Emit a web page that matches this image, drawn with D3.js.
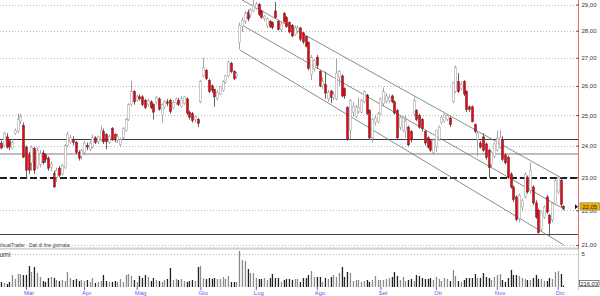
<!DOCTYPE html>
<html>
<head>
<meta charset="utf-8">
<script src="https://cdn.jsdelivr.net/npm/d3@7"></script>
<style>
  html, body { margin: 0; padding: 0; background: #fff; }
  svg { display: block; }
  text { font-family: "Liberation Sans", Arial, sans-serif; }
</style>
</head>
<body>
<svg id="chart" width="600" height="296"></svg>
<script>
// trading days per month, Feb (partial) .. Dic (partial)
const months = ['Feb', 'Mar', 'Apr', 'Mag', 'Giu', 'Lug', 'Ago', 'Set', 'Ott', 'Nov', 'Dic'];
const monthDays = [9, 21, 19, 23, 20, 22, 23, 20, 22, 22, 3];

const open = [
  24.08, 24.00, 24.28, 24.15, 23.92, 24.40, 24.45, 24.80, 24.65,
  23.95, 23.70, 23.45, 23.90, 23.32, 23.40, 23.76, 23.70, 23.60, 23.30, 23.12, 23.00, 23.28, 23.10, 23.30, 24.00, 24.12, 24.20, 24.10, 23.78, 23.65,
  23.78, 24.00, 23.88, 23.95, 24.25, 24.12, 24.20, 24.45, 24.35, 24.10, 24.55, 24.35, 24.18, 24.02, 24.25, 24.50, 24.85, 25.35, 25.80,
  25.50, 25.62, 25.62, 25.50, 25.35, 25.45, 25.35, 25.42, 25.55, 25.00, 25.25, 25.45, 25.50, 25.25, 25.42, 25.50, 25.30, 25.40, 25.55, 25.10, 25.05, 24.85, 24.85,
  25.45, 26.35, 26.55, 26.18, 26.00, 25.88, 25.55, 25.72, 25.85, 26.12, 26.35, 26.80, 26.50, 26.35, 27.55, 28.15, 28.35, 28.70, 28.60, 28.75,
  28.85, 29.00, 28.75, 28.45, 28.20, 28.35, 28.30, 28.75, 28.35, 28.05, 28.65, 28.50, 28.30, 28.20, 27.85, 28.00, 28.10, 27.92, 27.78, 27.55, 26.40, 26.60,
  27.02, 26.50, 26.00, 26.05, 25.55, 25.82, 25.60, 25.55, 26.30, 26.35, 25.90, 25.25, 24.50, 25.10, 24.95, 25.12, 25.10, 25.45, 25.68, 25.15, 24.25, 24.75, 24.78,
  25.05, 25.38, 25.45, 25.50, 25.65, 25.45, 25.15, 24.60, 24.50, 24.45, 24.60, 24.45, 25.05, 25.15, 24.98, 24.85, 24.45, 24.25, 24.15, 23.78,
  23.95, 24.20, 24.75, 24.80, 24.85, 24.90, 25.45, 25.80, 26.15, 25.90, 26.15, 25.80, 25.28, 25.28, 24.68, 24.20, 24.08, 24.28, 24.05, 23.85, 23.40, 23.65,
  23.85, 23.95, 24.20, 23.70, 23.62, 23.10, 22.70, 22.40, 21.75, 22.10, 22.40, 23.00, 22.60, 22.70, 22.22, 22.00, 21.45, 21.80, 22.40, 21.85, 21.72, 22.20,
  22.55, 22.90, 22.12
];
const high = [
  24.15, 24.45, 24.40, 24.20, 24.20, 24.55, 25.05, 25.05, 24.75,
  24.00, 23.80, 24.00, 23.95, 23.95, 23.85, 23.85, 23.75, 23.65, 23.50, 23.20, 23.30, 23.35, 23.42, 24.05, 24.45, 24.35, 24.30, 24.15, 23.85, 23.90,
  24.15, 24.10, 24.15, 24.35, 24.30, 24.32, 24.65, 24.55, 24.40, 24.35, 24.60, 24.40, 24.38, 24.25, 24.60, 24.90, 25.40, 26.18, 25.85,
  25.70, 25.70, 25.68, 25.55, 25.55, 25.50, 25.40, 25.65, 25.60, 25.40, 25.50, 25.55, 25.55, 25.50, 25.60, 25.58, 25.65, 25.65, 25.60, 25.15, 25.10, 25.00, 24.90,
  26.20, 27.00, 26.60, 26.25, 26.05, 25.90, 25.85, 26.00, 26.20, 26.40, 26.90, 26.85, 26.55, 26.50, 28.30, 28.50, 28.75, 28.80, 28.85, 29.20,
  29.10, 29.05, 28.80, 28.60, 28.50, 28.40, 28.35, 29.10, 28.40, 28.30, 28.70, 28.55, 28.35, 28.25, 28.20, 28.20, 28.15, 27.95, 27.80, 27.60, 27.10, 26.95,
  27.10, 26.55, 26.30, 26.50, 25.85, 25.85, 25.80, 26.95, 26.55, 26.40, 25.95, 25.30, 25.55, 25.45, 25.35, 25.60, 25.55, 25.85, 25.72, 25.20, 24.90, 25.00, 25.10,
  25.60, 25.95, 25.75, 25.70, 25.70, 25.50, 25.20, 25.00, 24.95, 25.00, 24.65, 24.50, 25.60, 25.20, 25.05, 24.90, 24.50, 24.30, 24.20, 24.22,
  24.52, 24.65, 25.00, 25.05, 25.05, 24.95, 26.15, 26.72, 26.45, 26.15, 26.20, 25.85, 25.32, 25.32, 24.72, 24.45, 24.15, 24.40, 24.10, 23.90, 23.82, 24.10,
  24.48, 24.50, 24.30, 23.75, 23.68, 23.15, 22.75, 22.45, 22.50, 22.35, 23.15, 23.05, 23.45, 22.75, 22.30, 22.05, 22.00, 22.15, 22.45, 21.90, 22.25, 22.95,
  23.05, 23.00, 22.15
];
const low = [
  23.88, 23.95, 23.90, 23.85, 23.88, 24.35, 24.40, 24.70, 23.60,
  22.97, 23.10, 23.20, 23.10, 23.25, 23.30, 23.40, 23.45, 23.20, 23.20, 22.68, 22.85, 23.00, 23.05, 23.25, 23.95, 24.05, 24.00, 23.72, 23.52, 23.55,
  23.70, 23.85, 23.82, 23.90, 24.05, 24.05, 24.15, 24.05, 23.88, 24.05, 24.15, 24.10, 24.08, 23.95, 24.20, 24.45, 24.80, 25.30, 25.35,
  25.45, 25.50, 25.30, 25.20, 25.30, 25.20, 24.85, 25.35, 25.15, 24.75, 25.20, 25.30, 25.05, 25.20, 25.35, 25.30, 25.25, 25.35, 25.00, 24.85, 24.75, 24.75, 24.60,
  25.40, 26.30, 26.20, 25.75, 25.75, 25.28, 25.50, 25.68, 25.80, 26.08, 26.30, 26.45, 26.20, 26.25, 27.30, 27.95, 28.25, 28.35, 28.50, 28.70,
  28.80, 28.55, 28.45, 28.35, 28.10, 28.10, 28.05, 28.45, 28.00, 27.95, 28.30, 28.10, 27.90, 27.75, 27.80, 27.90, 27.60, 27.50, 27.38, 26.55, 26.20, 26.50,
  26.60, 25.95, 25.90, 25.55, 25.45, 25.40, 25.50, 25.50, 26.00, 25.60, 25.55, 24.15, 24.20, 24.95, 24.90, 25.05, 25.05, 25.40, 25.00, 24.20, 24.10, 24.65, 24.72,
  25.00, 25.30, 25.40, 25.40, 25.40, 25.02, 24.20, 24.50, 24.45, 24.25, 23.98, 24.10, 24.95, 24.80, 24.55, 24.45, 24.00, 23.90, 23.80, 23.70,
  23.80, 24.15, 24.70, 24.75, 24.80, 24.60, 25.40, 25.75, 25.75, 25.85, 25.65, 25.10, 25.10, 24.75, 24.40, 23.65, 23.90, 23.80, 23.55, 22.98, 23.30, 23.60,
  23.80, 23.90, 23.50, 23.40, 22.95, 22.65, 22.25, 21.68, 21.65, 22.00, 22.35, 22.50, 22.50, 22.15, 21.75, 21.32, 21.40, 21.75, 21.90, 21.25, 21.65, 22.15,
  22.50, 22.10, 22.00
];
const close = [
  23.92, 24.40, 23.95, 23.95, 24.10, 24.50, 24.85, 24.95, 23.63,
  23.22, 23.22, 23.95, 23.22, 23.85, 23.75, 23.45, 23.55, 23.28, 23.40, 22.70, 23.22, 23.06, 23.37, 24.00, 24.35, 24.25, 24.10, 23.78, 23.60, 23.85,
  24.08, 23.95, 24.08, 24.25, 24.10, 24.28, 24.50, 24.12, 24.12, 24.30, 24.20, 24.18, 24.30, 24.20, 24.55, 24.85, 25.35, 25.80, 25.45,
  25.62, 25.55, 25.35, 25.25, 25.50, 25.25, 25.10, 25.60, 25.20, 25.35, 25.45, 25.40, 25.12, 25.42, 25.55, 25.35, 25.55, 25.62, 25.07, 24.93, 24.82, 24.95, 24.72,
  26.15, 26.65, 26.25, 25.80, 25.85, 25.62, 25.78, 25.97, 26.15, 26.35, 26.85, 26.50, 26.25, 26.42, 28.20, 28.40, 28.65, 28.45, 28.80, 28.95,
  29.02, 28.62, 28.50, 28.55, 28.45, 28.15, 28.12, 28.50, 28.05, 28.25, 28.35, 28.15, 27.95, 27.80, 28.12, 28.10, 27.68, 27.58, 27.42, 26.62, 27.00, 26.90,
  26.72, 26.00, 26.15, 25.75, 25.78, 25.60, 25.70, 26.45, 26.50, 25.65, 25.65, 24.20, 25.50, 25.30, 25.28, 25.25, 25.50, 25.80, 25.05, 24.25, 24.85, 24.90, 25.05,
  25.55, 25.80, 25.65, 25.60, 25.45, 25.07, 24.25, 24.92, 24.90, 24.80, 24.02, 24.18, 25.50, 24.85, 24.60, 24.55, 24.08, 23.95, 23.85, 24.18,
  24.50, 24.60, 24.93, 25.00, 24.98, 24.68, 26.12, 26.65, 25.80, 26.05, 25.72, 25.18, 25.18, 24.78, 24.45, 24.40, 23.95, 23.85, 23.62, 23.30, 23.78, 24.05,
  24.22, 24.25, 23.55, 23.45, 23.00, 22.70, 22.32, 21.73, 22.45, 22.30, 23.08, 22.55, 23.20, 22.22, 21.80, 21.35, 21.95, 22.10, 21.95, 21.62, 22.20, 22.90,
  23.00, 22.18, 22.05
];
// volume, thousands of shares
const volume = [
  760, 600, 450, 760, 1820, 1210, 1970, 1970, 1820,
  1820, 3180, 2270, 3030, 2120, 1520, 910, 760, 1360, 1520, 1360, 1060, 910, 1060, 910, 2270, 1360, 1060, 1210, 910, 1060,
  910, 1060, 760, 1360, 600, 760, 910, 1820, 910, 760, 760, 910, 760, 1210, 760, 1820, 1970, 1670, 1060,
  760, 1670, 1360, 1820, 1520, 910, 1360, 1060, 910, 760, 1060, 1210, 2880, 1060, 1210, 1060, 1210, 910, 760, 910, 1060, 910, 3030,
  3180, 1360, 1210, 1360, 1210, 1360, 1210, 1210, 1520, 1210, 1670, 760, 760, 760, 5450, 4090, 3940, 2730, 2120, 2120,
  1360, 1210, 1210, 1360, 1060, 1360, 1970, 1360, 1360, 760, 1060, 1210, 1210, 1060, 1210, 1210, 760, 1360, 1360, 1820, 2420, 1520,
  1520, 1520, 760, 1360, 1210, 1520, 1820, 1520, 2120, 3030, 1520, 2270, 2120, 910, 1060, 1060, 760, 910, 1060, 760, 1060, 1670, 1060,
  1060, 1060, 1210, 1360, 1520, 2270, 1670, 1060, 1520, 910, 1060, 1210, 910, 1820, 1670, 1360, 1210, 1210, 1360, 1060,
  1520, 1210, 910, 1360, 1210, 910, 2580, 1670, 910, 760, 1060, 1360, 1360, 1360, 1970, 1360, 1360, 2120, 1520, 1360, 1060, 1520,
  1820, 1970, 1060, 760, 1360, 2580, 1820, 1820, 1670, 1360, 1210, 1060, 1060, 1360, 1820, 1210, 1210, 910, 910, 1360, 1210, 2270,
  2420, 1970, 216.03
];

const priceTicks = [21, 22, 23, 24, 25, 26, 27, 28, 29];
const volumeTicks = [5000];
// horizontal support / resistance levels
const levels = [24.21, 23.75, 23.0, 21.31];
// descending channel: [bar index, price] at start and end
const channelStart = [[87, 29.18], [87, 28.21], [86.3, 27.28]];
const channelEnd = [[202.5, 22.97], [203.6, 22.02], [203.2, 21.0]];

(function () {
    'use strict';

    const W = 600;
    const H = 296;
    const axisX = 578.5;
    const n = close.length;

    const svg = d3.select('#chart');
    svg.append('rect').attr('width', W).attr('height', H).attr('fill', '#fff');

    const x = d3.scaleLinear().domain([0, n - 1]).range([1, 563.3]);
    const y = d3.scaleLog().domain([21, 29]).range([245, 4.5]);
    const yVol = d3.scaleLinear().domain([0, 5000]).range([287, 254]);

    const it = d3.formatLocale({ decimal: ',', thousands: '.', grouping: [3], currency: ['€', ''] });
    const fmtPrice = it.format('.2f');

    // dotted price grid
    svg.append('g')
        .selectAll('line')
        .data(priceTicks)
        .join('line')
        .attr('x1', 0).attr('x2', axisX)
        .attr('y1', d => Math.round(y(d)) + 0.5)
        .attr('y2', d => Math.round(y(d)) + 0.5)
        .attr('stroke', '#b8b8b8')
        .attr('stroke-dasharray', '1,2');

    // volume grid
    svg.append('g')
        .selectAll('line')
        .data(volumeTicks)
        .join('line')
        .attr('x1', 0).attr('x2', axisX)
        .attr('y1', d => Math.round(yVol(d)) + 0.5)
        .attr('y2', d => Math.round(yVol(d)) + 0.5)
        .attr('stroke', '#b8b8b8')
        .attr('stroke-dasharray', '1,2');

    // level lines
    const levelStyle = [
        { stroke: '#3a3a3a', width: 1.3, dash: null },
        { stroke: '#bdbdbd', width: 2, dash: null },
        { stroke: '#1e1e1e', width: 2, dash: '7,3' },
        { stroke: '#4a4a4a', width: 1, dash: null },
    ];
    svg.append('g')
        .selectAll('line')
        .data(levels)
        .join('line')
        .attr('x1', 0).attr('x2', axisX - 0.5)
        .attr('y1', d => Math.round(y(d)) + 0.5)
        .attr('y2', d => Math.round(y(d)) + 0.5)
        .attr('stroke', (d, i) => levelStyle[i].stroke)
        .attr('stroke-width', (d, i) => levelStyle[i].width)
        .attr('stroke-dasharray', (d, i) => levelStyle[i].dash)
        .attr('shape-rendering', 'crispEdges');

    // channel
    svg.append('g')
        .selectAll('line')
        .data(channelStart)
        .join('line')
        .attr('x1', d => x(d[0])).attr('y1', d => y(d[1]))
        .attr('x2', (d, i) => x(channelEnd[i][0]))
        .attr('y2', (d, i) => y(channelEnd[i][1]))
        .attr('stroke', '#6e6e6e')
        .attr('stroke-width', 0.8);

    // candles
    const bars = d3.range(n);
    const up = i => close[i] >= open[i];
    const candles = svg.append('g');
    candles.selectAll('line')
        .data(bars)
        .join('line')
        .attr('x1', i => Math.round(x(i)) + 0.5)
        .attr('x2', i => Math.round(x(i)) + 0.5)
        .attr('y1', i => y(high[i]))
        .attr('y2', i => y(low[i]))
        .attr('stroke', i => up(i) ? '#9a9a9a' : '#555')
        .attr('stroke-width', 0.9);
    candles.selectAll('rect')
        .data(bars)
        .join('rect')
        .attr('x', i => Math.round(x(i)) - 0.5)
        .attr('width', 2)
        .attr('y', i => y(Math.max(open[i], close[i])))
        .attr('height', i => Math.max(1, y(Math.min(open[i], close[i])) - y(Math.max(open[i], close[i]))))
        .attr('fill', i => up(i) ? '#ffffff' : '#f00010')
        .attr('stroke', i => up(i) ? '#9a9a9a' : '#5a2020')
        .attr('stroke-width', 0.5);

    // panel separator
    svg.append('rect')
        .attr('x', 0).attr('y', 247.5)
        .attr('width', axisX).attr('height', 2.2)
        .attr('fill', '#d2d2d2');

    // title
    svg.append('rect').attr('x', 0).attr('y', 242.5).attr('width', 70).attr('height', 5).attr('fill', '#fff');
    svg.append('text')
        .attr('x', -1.5).attr('y', 247.2)
        .attr('font-size', 5.4)
        .attr('textLength', 71)
        .attr('lengthAdjust', 'spacingAndGlyphs')
        .attr('fill', '#333')
        .text('VisualTrader - Dati di fine giornata');

    svg.append('text')
        .attr('x', -10.5).attr('y', 257)
        .attr('font-size', 7)
        .attr('fill', '#333')
        .text('Volumi');

    // volume bars
    svg.append('g')
        .selectAll('rect')
        .data(bars)
        .join('rect')
        .attr('x', i => Math.round(x(i)) - 0.2)
        .attr('width', 1.3)
        .attr('y', i => yVol(volume[i]))
        .attr('height', i => yVol(0) - yVol(volume[i]))
        .attr('fill', i => up(i) ? '#8c8c8c' : '#222');

    // right axis lines
    svg.append('line')
        .attr('x1', axisX).attr('x2', axisX).attr('y1', 0).attr('y2', 249)
        .attr('stroke', '#e86a6a');
    svg.append('line')
        .attr('x1', axisX).attr('x2', axisX).attr('y1', 249).attr('y2', 290)
        .attr('stroke', '#c4c4c4');

    const yAxis = d3.axisRight(y)
        .tickValues(priceTicks)
        .tickFormat(fmtPrice)
        .tickSizeInner(-2)
        .tickSizeOuter(0)
        .tickPadding(3);
    const gy = svg.append('g')
        .attr('transform', `translate(${axisX},0)`)
        .call(yAxis);
    gy.select('.domain').remove();
    gy.selectAll('.tick line').attr('stroke', '#333');
    gy.selectAll('.tick text')
        .attr('font-size', 6)
        .attr('font-family', '"Liberation Sans", Arial, sans-serif')
        .attr('fill', '#333');

    const volAxis = d3.axisRight(yVol)
        .tickValues(volumeTicks)
        .tickFormat(d => String(d / 1000))
        .tickSize(0)
        .tickPadding(3);
    const gv = svg.append('g')
        .attr('transform', `translate(${axisX},0)`)
        .call(volAxis);
    gv.select('.domain').remove();
    gv.selectAll('.tick text')
        .attr('font-size', 6)
        .attr('font-family', '"Liberation Sans", Arial, sans-serif')
        .attr('fill', '#333');

    // month axis
    const monthStarts = [];
    let acc = 0;
    monthDays.forEach((d, m) => {
        if (m > 0) monthStarts.push({ i: acc, label: months[m] });
        acc += d;
    });
    const xAxis = d3.axisBottom(x)
        .tickValues(monthStarts.map(d => d.i))
        .tickFormat((d, k) => monthStarts[k].label)
        .tickSize(3)
        .tickPadding(0.5);
    const gx = svg.append('g')
        .attr('transform', 'translate(0,287)')
        .call(xAxis);
    gx.select('.domain').remove();
    gx.selectAll('.tick line').attr('stroke', '#5c5cf0');
    gx.selectAll('.tick text')
        .attr('font-size', 6)
        .attr('font-family', '"Liberation Sans", Arial, sans-serif')
        .attr('text-anchor', 'start')
        .attr('dx', -2.5)
        .attr('fill', '#5c5cf0');

    // last price marker
    const lastY = y(close[n - 1]) - 2;
    svg.append('path')
        .attr('d', `M${axisX - 3.5},${lastY - 2.5}L${axisX - 0.5},${lastY}L${axisX - 3.5},${lastY + 2.5}Z`)
        .attr('fill', '#111');
    svg.append('rect')
        .attr('x', 580).attr('y', lastY - 3.8)
        .attr('width', 19.5).attr('height', 7.3)
        .attr('fill', '#f0b400')
        .attr('stroke', '#777')
        .attr('stroke-width', 0.6);
    svg.append('text')
        .attr('x', 589.7).attr('y', lastY + 2.2)
        .attr('text-anchor', 'middle')
        .attr('font-size', 6)
        .attr('fill', '#222')
        .text(fmtPrice(close[n - 1]));

    // last volume box
    svg.append('rect')
        .attr('x', 579.5).attr('y', 280.5)
        .attr('width', 19.5).attr('height', 6)
        .attr('fill', '#fff')
        .attr('stroke', '#333')
        .attr('stroke-width', 0.6);
    svg.append('text')
        .attr('x', 589.2).attr('y', 285.6)
        .attr('text-anchor', 'middle')
        .attr('font-size', 5.8)
        .attr('fill', '#222')
        .text(d3.format('.2f')(volume[n - 1]));
})();
</script>
</body>
</html>
